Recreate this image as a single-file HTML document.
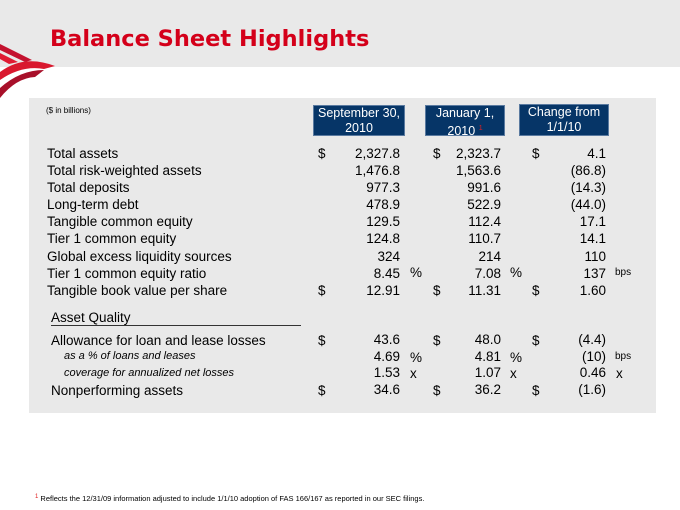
<!DOCTYPE html>
<html><head><meta charset="utf-8"><style>
*{margin:0;padding:0}
body{width:680px;height:510px;position:relative;background:#fff;font-family:"Liberation Sans",Arial,sans-serif;overflow:hidden;color:#000}
.a{position:absolute;white-space:nowrap}
.hdr{position:absolute;left:0;top:0;width:680px;height:67px;background:#e9e9e9}
.title{left:50px;top:26px;font-size:22.5px;font-weight:bold;color:#d4001a;font-family:"DejaVu Sans",Verdana,sans-serif}
.panel{position:absolute;left:29px;top:98px;width:627px;height:315px;background:#e9e9e9}
.box{position:absolute;background:#063567;color:#fff;font-size:12.5px;text-align:center;line-height:15px;border:1px solid #5a7aa0;box-sizing:border-box;padding-top:0px}
.r{font-size:13.5px;line-height:17px}
.n{text-align:right}
.it{font-style:italic;font-size:11px}
</style></head><body>
<div class="hdr"></div>
<svg class="a" style="left:0;top:40px" width="60" height="64" viewBox="0 0 60 64">
<path d="M0 4 L32 20 L25 22 L0 10Z" fill="#c4122f"/>
<path d="M0 13 L18 22 L9 24 L0 19Z" fill="#e01a33"/>
<path d="M0 32 Q24 14 55 26 L44 29 Q22 25 0 40Z" fill="#d9182e"/>
<path d="M0 48 Q20 30 44 30 L35 37 Q16 38 0 58Z" fill="#a8102a"/>
</svg>
<div class="a title">Balance Sheet Highlights</div>
<div class="panel"></div>
<div class="a" style="left:46px;top:106px;font-size:8px">($ in billions)</div>
<div class="box" style="left:313px;top:105px;width:92px;height:31px">September 30,<br>2010</div>
<div class="box" style="left:425px;top:105px;width:80px;height:31px">January 1,<br>2010 <sup style="color:#e02020;font-size:7px">1</sup></div>
<div class="box" style="left:519px;top:104px;width:90px;height:32px">Change from<br>1/1/10</div>

<div class="a r" style="left:47px;top:145px;line-height:17.1px">Total assets<br>Total risk-weighted assets<br>Total deposits<br>Long-term debt<br>Tangible common equity<br>Tier 1 common equity<br>Global excess liquidity sources<br>Tier 1 common equity ratio<br>Tangible book value per share</div>
<div class="a r" style="left:318px;top:145px;line-height:17.1px">$<br><br><br><br><br><br><br><br>$</div>
<div class="a r n" style="left:330px;width:70px;top:145px;line-height:17.1px">2,327.8<br>1,476.8<br>977.3<br>478.9<br>129.5<br>124.8<br>324<br>8.45<br>12.91</div>
<div class="a r" style="left:433px;top:145px;line-height:17.1px">$<br><br><br><br><br><br><br><br>$</div>
<div class="a r n" style="left:430px;width:71px;top:145px;line-height:17.1px">2,323.7<br>1,563.6<br>991.6<br>522.9<br>112.4<br>110.7<br>214<br>7.08<br>11.31</div>
<div class="a r" style="left:532px;top:145px;line-height:17.1px">$<br><br><br><br><br><br><br><br>$</div>
<div class="a r n" style="left:540px;width:66px;top:145px;line-height:17.1px">4.1<br>(86.8)<br>(14.3)<br>(44.0)<br>17.1<br>14.1<br>110<br>137<br>1.60</div>
<div class="a r" style="left:410px;top:264px">%</div>
<div class="a r" style="left:510px;top:264px">%</div>
<div class="a" style="left:615px;top:267px;font-size:10px">bps</div>

<div class="a r" style="left:51px;top:309px">Asset Quality</div>
<div class="a" style="left:51px;top:325px;width:250px;height:1px;background:#333"></div>
<div class="a r" style="left:51px;top:332px">Allowance for loan and lease losses</div>
<div class="a it" style="left:64px;top:350px">as a % of loans and leases</div>
<div class="a it" style="left:64px;top:367px">coverage for annualized net losses</div>
<div class="a r" style="left:51px;top:382px">Nonperforming assets</div>
<div class="a r" style="left:318px;top:332px">$</div>
<div class="a r" style="left:318px;top:382px">$</div>
<div class="a r" style="left:433px;top:332px">$</div>
<div class="a r" style="left:433px;top:382px">$</div>
<div class="a r" style="left:532px;top:332px">$</div>
<div class="a r" style="left:532px;top:382px">$</div>
<div class="a r n" style="left:330px;width:70px;top:332px;line-height:16.6px">43.6<br>4.69<br>1.53<br>34.6</div>
<div class="a r n" style="left:430px;width:71px;top:332px;line-height:16.6px">48.0<br>4.81<br>1.07<br>36.2</div>
<div class="a r n" style="left:540px;width:66px;top:332px;line-height:16.6px">(4.4)<br>(10)<br>0.46<br>(1.6)</div>
<div class="a r" style="left:410px;top:349px">%</div>
<div class="a r" style="left:510px;top:349px">%</div>
<div class="a r" style="left:410px;top:365px">x</div>
<div class="a r" style="left:510px;top:365px">x</div>
<div class="a r" style="left:616px;top:365px">x</div>
<div class="a" style="left:615px;top:351px;font-size:10px">bps</div>

<div class="a" style="left:35px;top:494px;font-size:7.5px"><span style="color:#e02020;font-size:6px;vertical-align:top">1</span> Reflects the 12/31/09 information adjusted to include 1/1/10 adoption of FAS 166/167 as reported in our SEC filings.</div>
</body></html>
